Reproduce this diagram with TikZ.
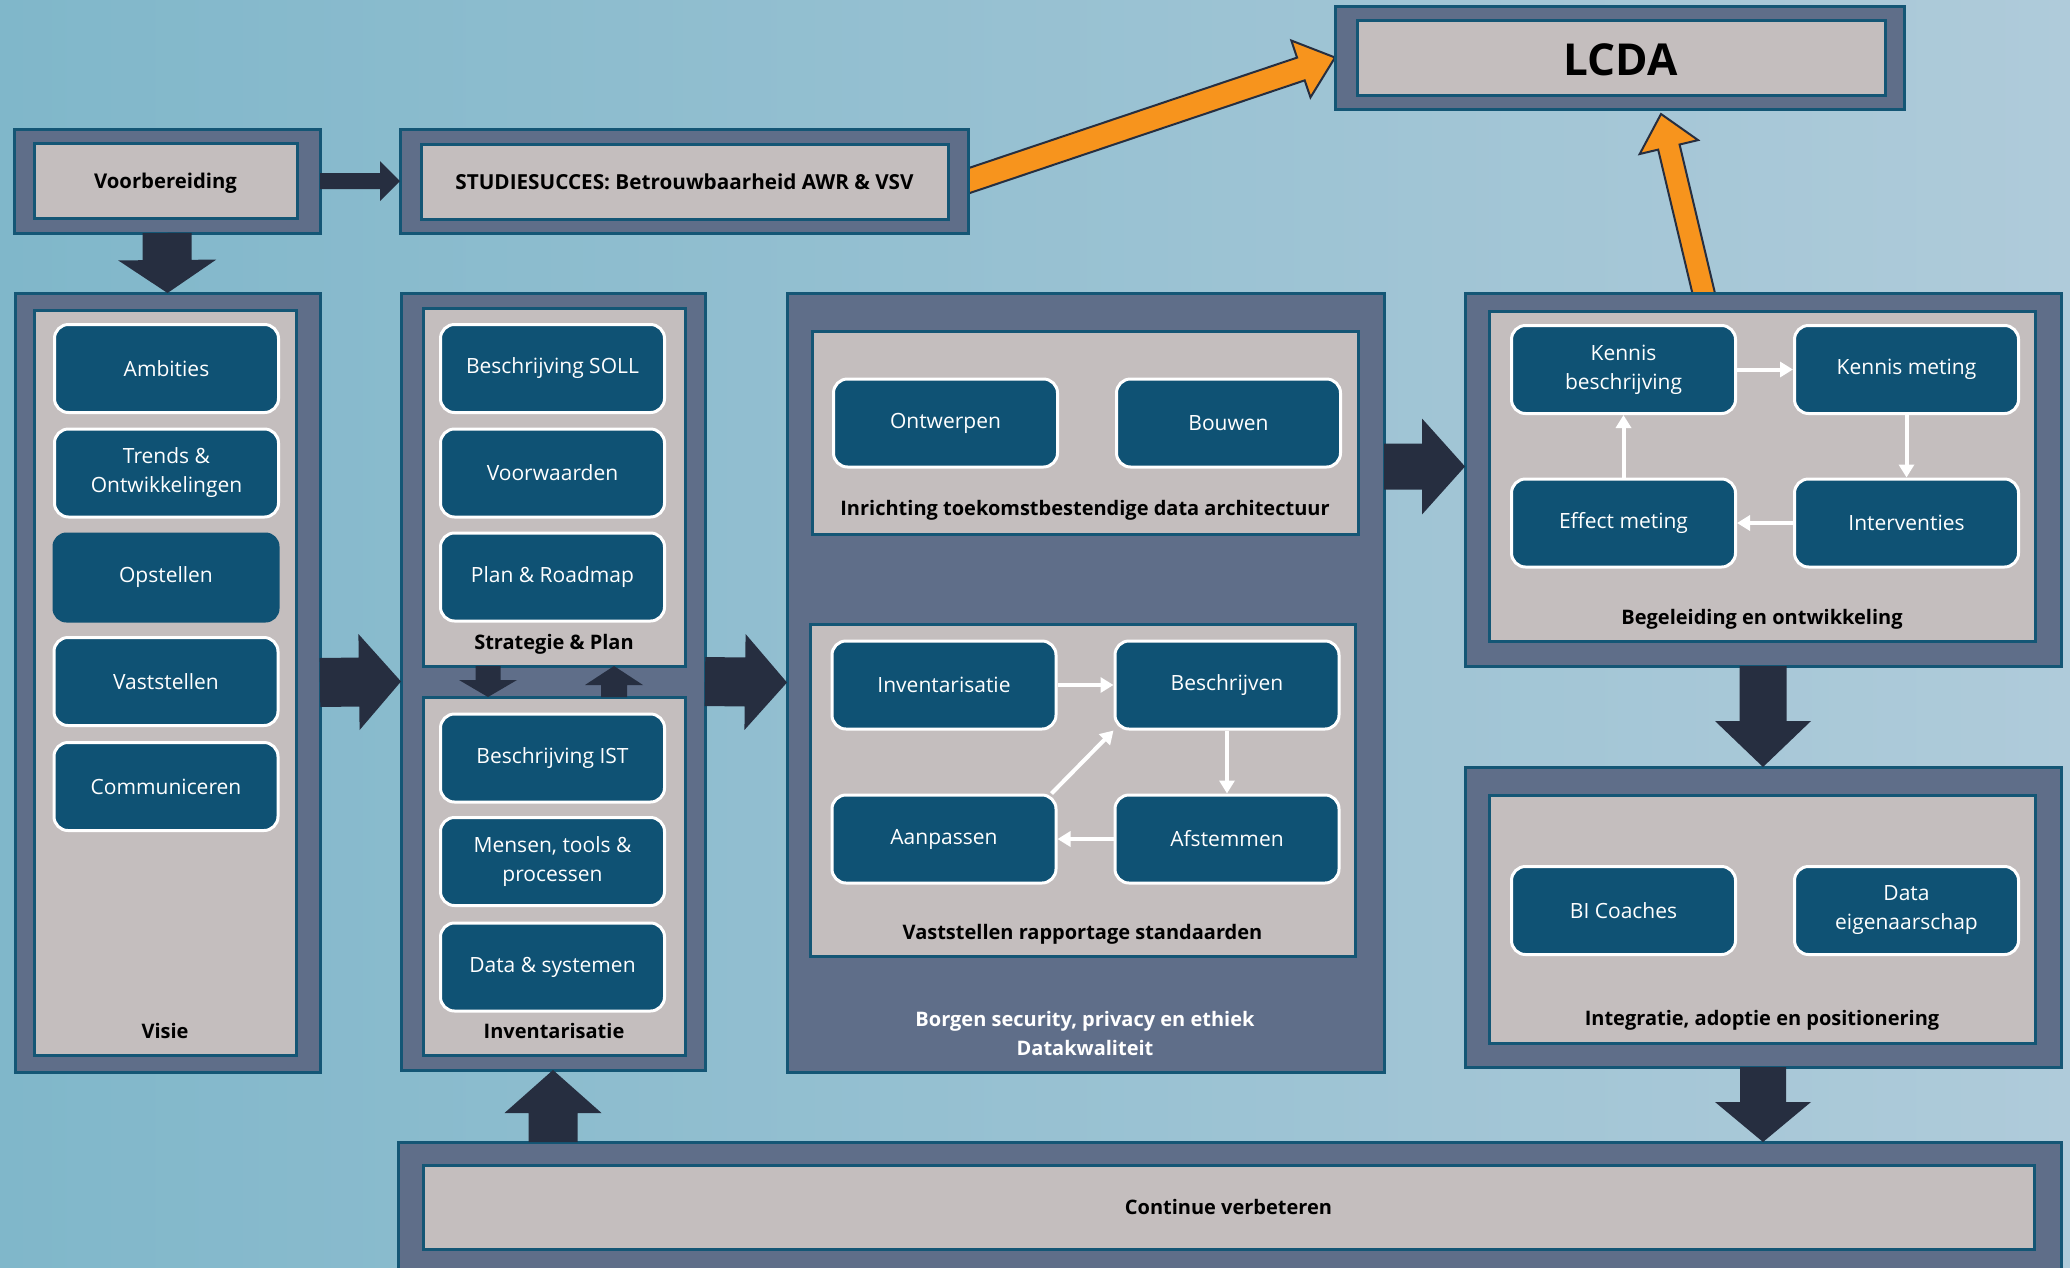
\documentclass[tikz,border=0pt]{standalone}
\usepackage{fontspec}
\setmainfont{Open Sans}
\usetikzlibrary{calc,positioning,arrows.meta}

\definecolor{achtergrondL}{HTML}{80B7CA}
\definecolor{achtergrondM}{HTML}{ABCCD9}
\definecolor{achtergrondR}{HTML}{AFCBDA}
\definecolor{leisteen}{HTML}{5F6E89}
\definecolor{randblauw}{HTML}{145675}
\definecolor{vlakgrijs}{HTML}{C4BEBE}
\definecolor{taakblauw}{HTML}{0F5274}
\definecolor{pijldonker}{HTML}{262E40}
\definecolor{oranje}{HTML}{F7941D}

\tikzset{
  buiten/.style={fill=leisteen, draw=randblauw, line width=3pt, inner sep=0pt, outer sep=0pt, anchor=north west},
  binnen/.style={fill=vlakgrijs, draw=randblauw, line width=3pt, inner sep=0pt, outer sep=0pt, anchor=north west},
  taak/.style={fill=taakblauw, draw=white, line width=3pt, rounded corners=14pt, text=white, align=center,
    minimum width=224pt, minimum height=88pt, inner sep=0pt, font=\fontsize{21}{29}\selectfont},
  kop/.style={font=\fontsize{20}{29}\selectfont\bfseries, inner sep=0pt, align=center},
  donkerpijl/.style={fill=pijldonker},
  oranjepijl/.style={fill=oranje, draw=pijldonker, line width=2pt, line join=miter},
  wpijl/.style={draw=white, line width=4pt, -{Triangle[length=13pt,width=15pt]}}
}

% panel from top-left to bottom-right corner
\newcommand{\paneel}[6]{\node[#2, minimum width={(#5-#3)*1pt}, minimum height={(#6-#4)*1pt}] (#1) at (#3,#4) {};}

% block arrow: start, tip, half shaft, half head, head length
\newcommand{\fatarrow}[6][donkerpijl]{%
  \coordinate (fa-a) at (#2);
  \coordinate (fa-b) at (#3);
  \coordinate (fa-h) at ($(fa-b)!#6!(fa-a)$);
  \path[#1] ($(fa-a)!#4!90:(fa-b)$) -- ($(fa-h)!#4!90:(fa-b)$) -- ($(fa-h)!#5!90:(fa-b)$) -- (fa-b)
    -- ($(fa-h)!#5!-90:(fa-b)$) -- ($(fa-h)!#4!-90:(fa-b)$) -- ($(fa-a)!#4!-90:(fa-b)$) -- cycle;}

\begin{document}
\begin{tikzpicture}[x=1pt,y=-1pt]

\useasboundingbox (0,0) rectangle (2070,1267);
\clip (0,0) rectangle (2070,1267);
\shade[left color=achtergrondL, middle color=achtergrondM, right color=achtergrondR] (0,0) rectangle (2070,1267);

% orange arrows go under the panels
\coordinate (studieUit) at (953,186);
\coordinate (lcdaLinks) at (1335,57.5);
\coordinate (begelUit) at (1706,303);
\coordinate (lcdaOnder) at (1661,114);
\fatarrow[oranjepijl]{studieUit}{lcdaLinks}{12pt}{30pt}{36pt}
\fatarrow[oranjepijl]{begelUit}{lcdaOnder}{11pt}{30pt}{34pt}

\paneel{voorO}{buiten}{14}{129}{320}{233}
\paneel{voorI}{binnen}{34}{143}{297}{218}
\node[kop, font=\fontsize{20.3}{24}\selectfont\bfseries] (voorTekst) at ($(voorI.center)+(0,3)$) {Voorbereiding};

\paneel{studieO}{buiten}{400}{129}{968}{233}
\paneel{studieI}{binnen}{421}{144}{948}{219}
\node[kop, font=\fontsize{20.7}{24}\selectfont\bfseries] (studieTekst) at (studieI.center) {STUDIESUCCES: Betrouwbaarheid AWR \& VSV};

\paneel{lcdaO}{buiten}{1335}{6}{1904}{109}
\paneel{lcdaI}{binnen}{1357}{20}{1885}{95}
\node[kop, font=\fontsize{44}{50}\selectfont\bfseries] (lcdaTekst) at ($(lcdaI.center)+(0,2)$) {LCDA};

\paneel{visieO}{buiten}{15}{293}{320}{1072}
\paneel{visieI}{binnen}{34}{310}{296}{1055}
\node[taak] (ambities) at (166.5,368.5) {Ambities};
\node[taak] (trends) at (166.5,473) {Trends \&\\Ontwikkelingen};
\node[taak, draw=none, minimum width=227pt, minimum height=90pt] (opstellen) at (166,577.5) {Opstellen};
\node[taak] (vaststellen) at (166,681.5) {Vaststellen};
\node[taak] (communiceren) at (166,786.5) {Communiceren};
\node[kop, anchor=base] (visieKop) at ($(visieI.south)+(0,-17)$) {Visie};

\paneel{stratO}{buiten}{401}{293}{705}{1070}
\paneel{stratI}{binnen}{423}{308}{685}{666}
\paneel{invI}{binnen}{423}{697}{685}{1055}
\node[taak] (soll) at (552.5,368.5) {Beschrijving SOLL};
\node[taak] (voorwaarden) at (552.5,473) {Voorwaarden};
\node[taak] (roadmap) at (552.5,577) {Plan \& Roadmap};
\node[kop, anchor=base] (stratKop) at ($(stratI.south)+(0,-17)$) {Strategie \& Plan};
\node[taak] (ist) at (552.5,758) {Beschrijving IST};
\node[taak] (mensen) at (552.5,861.5) {Mensen, tools \&\\processen};
\node[taak] (systemen) at (552.5,967) {Data \& systemen};
\node[kop, anchor=base] (invKop) at ($(invI.south)+(0,-17)$) {Inventarisatie};

\paneel{borgO}{buiten}{787}{293}{1384}{1072}
\paneel{archI}{binnen}{812}{331}{1358}{534}
\paneel{rapI}{binnen}{810}{624}{1355}{956}
\node[taak] (ontwerpen) at (945.5,423) {Ontwerpen};
\node[taak] (bouwen) at (1228.5,423) {Bouwen};
\node[kop, anchor=base] (archKop) at ($(archI.south)+(0,-19)$) {Inrichting toekomstbestendige data architectuur};
\node[taak] (inv) at (944,685) {Inventarisatie};
\node[taak] (besch) at (1227,685) {Beschrijven};
\node[taak] (aanp) at (944,839) {Aanpassen};
\node[taak] (afst) at (1227,839) {Afstemmen};
\node[kop, anchor=base] (rapKop) at ($(rapI.south)+(0,-17)$) {Vaststellen rapportage standaarden};
\node[kop, text=white] (borgKop) at (1085,1033) {Borgen security, privacy en ethiek\\Datakwaliteit};

\paneel{begelO}{buiten}{1465}{293}{2061}{666}
\paneel{begelI}{binnen}{1489}{311}{2035}{641}
\node[taak] (kb) at (1623.5,369.5) {Kennis\\beschrijving};
\node[taak] (km) at (1906.5,369.5) {Kennis meting};
\node[taak] (em) at (1623.5,523) {Effect meting};
\node[taak] (int) at (1906.5,523) {Interventies};
\node[kop, anchor=base] (begelKop) at ($(begelI.south)+(0,-17)$) {Begeleiding en ontwikkeling};

\paneel{integO}{buiten}{1465}{767}{2061}{1067}
\paneel{integI}{binnen}{1489}{795}{2035}{1043}
\node[taak] (coaches) at (1623.5,910.5) {BI Coaches};
\node[taak] (eigenaar) at (1906.5,910.5) {Data\\eigenaarschap};
\node[kop, anchor=base] (integKop) at ($(integI.south)+(0,-18)$) {Integratie, adoptie en positionering};

\paneel{contO}{buiten}{398}{1142}{2061}{1300}
\paneel{contI}{binnen}{423}{1165}{2034}{1249}
\node[kop] (contTekst) at (contI.center) {Continue verbeteren};

% white arrows inside the panels
\draw[wpijl] (inv.east) -- (besch.west);
\draw[wpijl] (besch.south) -- (afst.north);
\draw[wpijl] (afst.west) -- (aanp.east);
\draw[wpijl] ($(aanp.north east)+(-6,0)$) -- (besch.south west);
\draw[wpijl] (kb.east) -- (km.west);
\draw[wpijl] (km.south) -- (int.north);
\draw[wpijl] (int.west) -- (em.east);
\draw[wpijl] (em.north) -- (kb.south);

% dark block arrows
\fatarrow{voorO.east}{studieO.west}{8pt}{20pt}{20pt}
\fatarrow{voorO.south}{visieO.north}{24.5pt}{49pt}{33pt}
\fatarrow{visieO.east}{stratO.west}{24.5pt}{48pt}{42pt}
\fatarrow{stratO.east}{borgO.west}{24.5pt}{48pt}{42pt}
\coordinate (begelIn) at ($(begelO.west)+(0,-13)$);
\coordinate (borgUit) at (borgO.east |- begelIn);
\fatarrow{borgUit}{begelIn}{23pt}{48pt}{43pt}
\fatarrow{begelO.south}{integO.north}{23.5pt}{48pt}{46pt}
\coordinate (contIn) at (integO.south |- contO.north);
\fatarrow{integO.south}{contIn}{23pt}{48pt}{40pt}
\coordinate (contUit) at (stratO.south |- contO.north);
\fatarrow{contUit}{stratO.south}{24.5pt}{48.5pt}{43pt}
\coordinate (neerTop) at ($(stratI.south)+(-66,0)$);
\coordinate (neerTip) at (neerTop |- invI.north);
\fatarrow{neerTop}{neerTip}{12.5pt}{29pt}{17pt}
\coordinate (opStart) at ($(invI.north)+(60,0)$);
\coordinate (opTip) at (opStart |- stratI.south);
\fatarrow{opStart}{opTip}{13pt}{29pt}{19pt}

\end{tikzpicture}
\end{document}
